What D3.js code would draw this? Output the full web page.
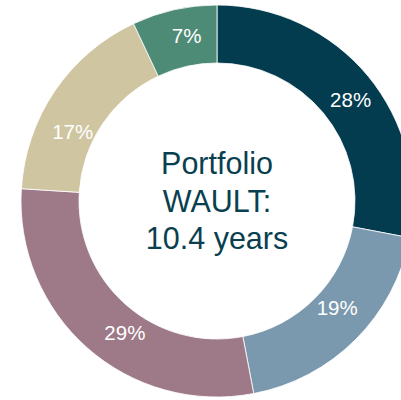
<!DOCTYPE html>
<html>
<head>
<meta charset="utf-8">
<script src="https://cdn.jsdelivr.net/npm/d3@7"></script>
<style>
	html, body { margin: 0; padding: 0; background: #fff; overflow: hidden; }
	svg { display: block; font-family: "Liberation Sans", Arial, sans-serif; }
</style>
</head>
<body>
<svg id="chart"></svg>
<script>
	'use strict';

	// Slices, clockwise from 12 o'clock
	var segments = ['A', 'B', 'C', 'D', 'E'];
	var shares = [28, 19, 29, 17, 7];
	var colours = ['#033c4f', '#7b99ae', '#9e7988', '#cfc5a1', '#4e8b77'];
	var centreLines = ['Portfolio', 'WAULT:', '10.4 years'];

	var width = 401, height = 400;
	var cx = 217, cy = 201;
	var outer = 196, inner = 138;
	// label placement tweaks (degrees along the ring), as in the original deck
	var labelShift = [2.3, -3.3, -6.5, -8.6, 2.2];
	var labelRadius = [168, 161, 161, 160, 168];

	var svg = d3.select('#chart')
		.attr('width', width)
		.attr('height', height);

	var g = svg.append('g')
		.attr('transform', 'translate(' + cx + ',' + cy + ')');

	var data = segments.map(function(s, i) {
		return { name: s, value: shares[i], colour: colours[i] };
	});

	var pie = d3.pie()
		.sort(null)
		.value(function(d) { return d.value; });

	var arc = d3.arc()
		.innerRadius(inner)
		.outerRadius(outer);

	var arcs = pie(data);

	g.selectAll('path.slice')
		.data(arcs)
		.enter().append('path')
		.attr('class', 'slice')
		.attr('d', arc)
		.attr('fill', function(d) { return d.data.colour; })
		.attr('stroke', '#fff')
		.attr('stroke-width', 0.8);

	g.selectAll('text.pct')
		.data(arcs)
		.enter().append('text')
		.attr('class', 'pct')
		.attr('transform', function(d, i) {
			var a = (d.startAngle + d.endAngle) / 2 + labelShift[i] * Math.PI / 180;
			var r = labelRadius[i];
			return 'translate(' + (r * Math.sin(a)) + ',' + (-r * Math.cos(a)) + ')';
		})
		.attr('text-anchor', 'middle')
		.attr('dy', '0.36em')
		.attr('fill', '#fff')
		.style('font-size', '20.5px')
		.text(function(d) { return d.data.value + '%'; });

	// Centre caption
	g.selectAll('text.centre')
		.data(centreLines)
		.enter().append('text')
		.attr('class', 'centre')
		.attr('text-anchor', 'middle')
		.attr('y', function(d, i) { return -27 + i * 37.5; })
		.attr('fill', '#0a3f50')
		.style('font-size', '30.5px')
		.text(function(d) { return d; });
</script>
</body>
</html>
